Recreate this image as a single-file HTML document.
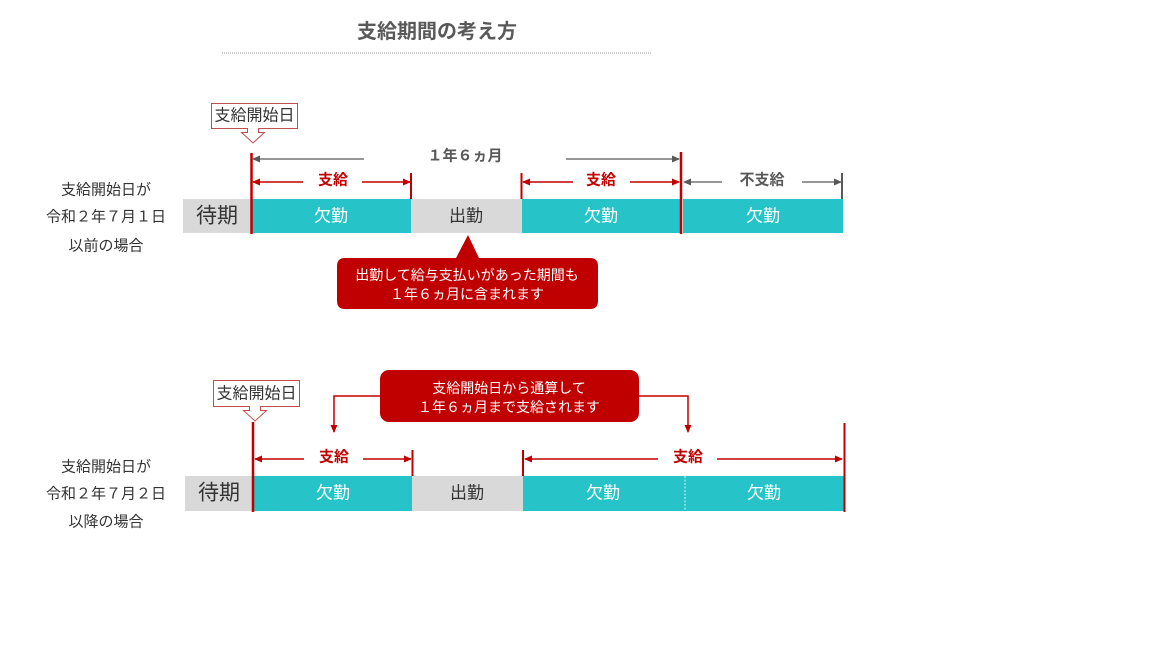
<!DOCTYPE html>
<html><head><meta charset="utf-8">
<style>
html,body{margin:0;padding:0;background:#fff;}
svg{display:block;}
text{font-family:"Liberation Sans","Noto Sans CJK JP",sans-serif;}
</style></head>
<body>
<svg width="1152" height="648" viewBox="0 0 1152 648" xmlns="http://www.w3.org/2000/svg">
<defs>
<marker id="ar" markerWidth="8" markerHeight="8" refX="7" refY="4" orient="auto" markerUnits="userSpaceOnUse"><path d="M0,0.5 L8,4 L0,7.5 Z" fill="#c00000"/></marker>
<marker id="ag" markerWidth="8" markerHeight="8" refX="7" refY="4" orient="auto" markerUnits="userSpaceOnUse"><path d="M0,0.5 L8,4 L0,7.5 Z" fill="#595959"/></marker>
</defs>

<!-- Title -->
<text x="437" y="32" font-size="20" font-weight="bold" fill="#595959" text-anchor="middle" dominant-baseline="central">支給期間の考え方</text>
<line x1="222" y1="53" x2="652" y2="53" stroke="#9a9a9a" stroke-width="1" stroke-dasharray="1,1"/>

<!-- ===== Row 1 ===== -->
<text x="106" y="190" font-size="15" fill="#333" text-anchor="middle" dominant-baseline="central">支給開始日が</text>
<text x="106" y="217" font-size="15" fill="#333" text-anchor="middle" dominant-baseline="central">令和２年７月１日</text>
<text x="106" y="246" font-size="15" fill="#333" text-anchor="middle" dominant-baseline="central">以前の場合</text>

<!-- label box -->
<path d="M211.5,103.5 H297.5 V128.5 H258.5 V132.5 H264.5 L253,143 L241.5,132.5 H247.5 V128.5 H211.5 Z" fill="#fff" stroke="#c0504d" stroke-width="1"/>
<text x="254.5" y="116" font-size="16" fill="#333" text-anchor="middle" dominant-baseline="central">支給開始日</text>

<!-- bars -->
<rect x="183" y="199" width="69" height="34" fill="#d9d9d9"/>
<rect x="252" y="199" width="159" height="34" fill="#26c4c8"/>
<rect x="411" y="199" width="111" height="34" fill="#d9d9d9"/>
<rect x="522" y="199" width="158" height="34" fill="#26c4c8"/>
<rect x="683" y="199" width="160" height="34" fill="#26c4c8"/>
<text x="217" y="216" font-size="21" fill="#333" text-anchor="middle" dominant-baseline="central">待期</text>
<text x="331" y="216" font-size="17" fill="#fff" text-anchor="middle" dominant-baseline="central">欠勤</text>
<text x="466" y="216" font-size="17" fill="#333" text-anchor="middle" dominant-baseline="central">出勤</text>
<text x="601" y="216" font-size="17" fill="#fff" text-anchor="middle" dominant-baseline="central">欠勤</text>
<text x="763" y="216" font-size="17" fill="#fff" text-anchor="middle" dominant-baseline="central">欠勤</text>

<!-- main red lines -->
<line x1="251.5" y1="153" x2="251.5" y2="234" stroke="#c00000" stroke-width="2.5"/>
<line x1="681" y1="152" x2="681" y2="234" stroke="#c00000" stroke-width="2.5"/>

<!-- 1年6ヵ月 -->
<line x1="364" y1="159" x2="253" y2="159" stroke="#595959" stroke-width="1.3" marker-end="url(#ag)"/>
<line x1="566" y1="159" x2="679" y2="159" stroke="#595959" stroke-width="1.3" marker-end="url(#ag)"/>
<text x="465" y="156" font-size="15" font-weight="bold" fill="#595959" text-anchor="middle" dominant-baseline="central">１年６ヵ月</text>

<!-- 支給 1 -->
<line x1="303" y1="182" x2="253" y2="182" stroke="#c00000" stroke-width="1.5" marker-end="url(#ar)"/>
<line x1="362" y1="182" x2="410" y2="182" stroke="#c00000" stroke-width="1.5" marker-end="url(#ar)"/>
<line x1="411" y1="173" x2="411" y2="199" stroke="#c00000" stroke-width="2"/>
<text x="333" y="180" font-size="15" font-weight="bold" fill="#c00000" text-anchor="middle" dominant-baseline="central">支給</text>

<!-- 支給 2 -->
<line x1="521.5" y1="173" x2="521.5" y2="199" stroke="#c00000" stroke-width="2"/>
<line x1="573" y1="182" x2="523" y2="182" stroke="#c00000" stroke-width="1.5" marker-end="url(#ar)"/>
<line x1="630" y1="182" x2="679" y2="182" stroke="#c00000" stroke-width="1.5" marker-end="url(#ar)"/>
<text x="601" y="180" font-size="15" font-weight="bold" fill="#c00000" text-anchor="middle" dominant-baseline="central">支給</text>

<!-- 不支給 -->
<line x1="722" y1="182" x2="684" y2="182" stroke="#595959" stroke-width="1.3" marker-end="url(#ag)"/>
<line x1="802" y1="182" x2="841" y2="182" stroke="#595959" stroke-width="1.3" marker-end="url(#ag)"/>
<line x1="842" y1="173" x2="842" y2="199" stroke="#595959" stroke-width="2"/>
<text x="762" y="180" font-size="15" font-weight="bold" fill="#595959" text-anchor="middle" dominant-baseline="central">不支給</text>

<!-- callout 1 -->
<path d="M345,258 H456 L468,235 L479,258 H590 Q598,258 598,266 V301 Q598,309 590,309 H345 Q337,309 337,301 V266 Q337,258 345,258 Z" fill="#c00000"/>
<text x="467" y="275" font-size="14" fill="#fff" text-anchor="middle" dominant-baseline="central">出勤して給与支払いがあった期間も</text>
<text x="467" y="294" font-size="14" fill="#fff" text-anchor="middle" dominant-baseline="central">１年６ヵ月に含まれます</text>

<!-- ===== Row 2 ===== -->
<text x="106" y="467" font-size="15" fill="#333" text-anchor="middle" dominant-baseline="central">支給開始日が</text>
<text x="106" y="494" font-size="15" fill="#333" text-anchor="middle" dominant-baseline="central">令和２年７月２日</text>
<text x="106" y="522" font-size="15" fill="#333" text-anchor="middle" dominant-baseline="central">以降の場合</text>

<path d="M213.5,380.5 H299.5 V406.5 H260.5 V410.5 H266.5 L255,421 L243.5,410.5 H249.5 V406.5 H213.5 Z" fill="#fff" stroke="#c0504d" stroke-width="1"/>
<text x="256.5" y="394" font-size="16" fill="#333" text-anchor="middle" dominant-baseline="central">支給開始日</text>

<rect x="185" y="476" width="68" height="35" fill="#d9d9d9"/>
<rect x="253" y="476" width="159" height="35" fill="#26c4c8"/>
<rect x="412" y="476" width="111" height="35" fill="#d9d9d9"/>
<rect x="523" y="476" width="321" height="35" fill="#26c4c8"/>
<line x1="685" y1="476" x2="685" y2="511" stroke="#ffffff" stroke-width="1" stroke-dasharray="2,1.5" opacity="0.8"/>
<text x="219" y="493" font-size="21" fill="#333" text-anchor="middle" dominant-baseline="central">待期</text>
<text x="333" y="493" font-size="17" fill="#fff" text-anchor="middle" dominant-baseline="central">欠勤</text>
<text x="467" y="493" font-size="17" fill="#333" text-anchor="middle" dominant-baseline="central">出勤</text>
<text x="603" y="493" font-size="17" fill="#fff" text-anchor="middle" dominant-baseline="central">欠勤</text>
<text x="764" y="493" font-size="17" fill="#fff" text-anchor="middle" dominant-baseline="central">欠勤</text>

<line x1="253" y1="422" x2="253" y2="512" stroke="#c00000" stroke-width="2.5"/>
<line x1="844.5" y1="423" x2="844.5" y2="512" stroke="#c00000" stroke-width="2"/>

<!-- 支給 row2 a -->
<line x1="304" y1="459" x2="255" y2="459" stroke="#c00000" stroke-width="1.5" marker-end="url(#ar)"/>
<line x1="363" y1="459" x2="411" y2="459" stroke="#c00000" stroke-width="1.5" marker-end="url(#ar)"/>
<line x1="412.5" y1="450" x2="412.5" y2="476" stroke="#c00000" stroke-width="2"/>
<text x="334" y="457" font-size="15" font-weight="bold" fill="#c00000" text-anchor="middle" dominant-baseline="central">支給</text>

<!-- 支給 row2 b -->
<line x1="523" y1="450" x2="523" y2="476" stroke="#c00000" stroke-width="2"/>
<line x1="658" y1="459" x2="525" y2="459" stroke="#c00000" stroke-width="1.5" marker-end="url(#ar)"/>
<line x1="717" y1="459" x2="842" y2="459" stroke="#c00000" stroke-width="1.5" marker-end="url(#ar)"/>
<text x="688" y="457" font-size="15" font-weight="bold" fill="#c00000" text-anchor="middle" dominant-baseline="central">支給</text>

<!-- callout 2 connectors -->
<polyline points="381,396 334,396 334,432" fill="none" stroke="#c00000" stroke-width="1.5" marker-end="url(#ar)"/>
<polyline points="638,396 688,396 688,432" fill="none" stroke="#c00000" stroke-width="1.5" marker-end="url(#ar)"/>

<!-- callout 2 -->
<rect x="380" y="370" width="259" height="52" rx="9" ry="9" fill="#c00000"/>
<text x="509" y="388" font-size="14" fill="#fff" text-anchor="middle" dominant-baseline="central">支給開始日から通算して</text>
<text x="509" y="407" font-size="14" fill="#fff" text-anchor="middle" dominant-baseline="central">１年６ヵ月まで支給されます</text>
</svg>
</body></html>
